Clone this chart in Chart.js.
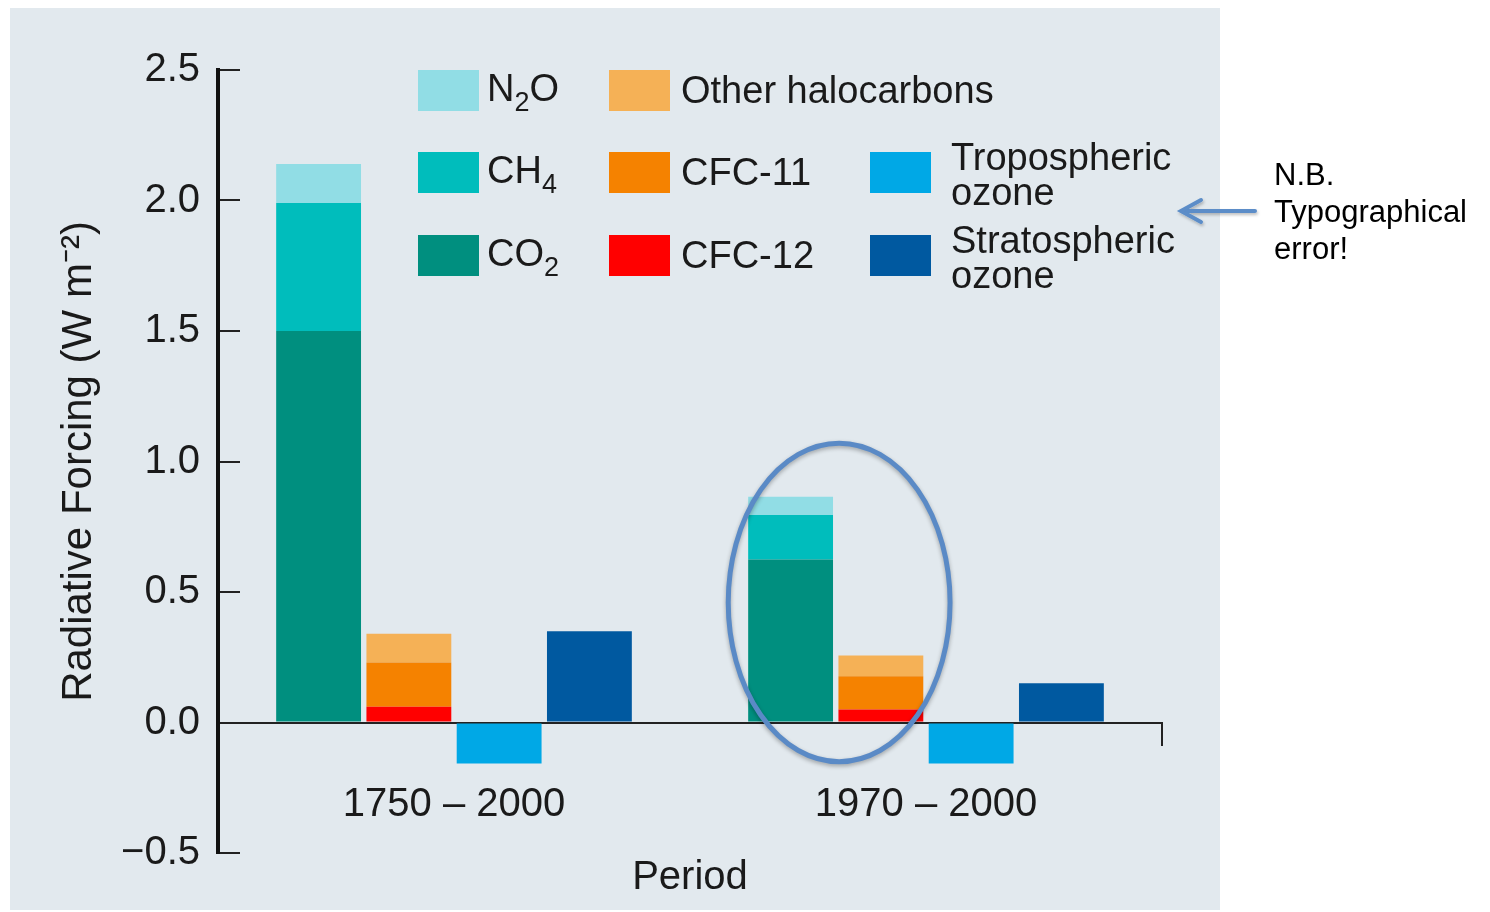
<!DOCTYPE html>
<html>
<head>
<meta charset="utf-8">
<script src="https://cdn.jsdelivr.net/npm/chart.js@4.4.1/dist/chart.umd.min.js"></script>
<style>
  html, body { margin: 0; padding: 0; background: #fff; }
  body { width: 1490px; height: 912px; position: relative; overflow: hidden;
         font-family: "Liberation Sans", Arial, sans-serif; color: #1a1a1a; }
  #panel { position: absolute; left: 10px; top: 8px; width: 1210px; height: 902px; background: #e2e9ee; }
  #wrap { position: absolute; left: 0; top: 0; width: 1490px; height: 912px; }
  .key { position: absolute; display: flex; align-items: center; height: 41px; font-size: 38px; line-height: 35px; white-space: nowrap; }
  .key i { display: block; width: 61px; height: 41px; flex: none; }
  .key .sub { font-size: 27px; position: relative; top: 10px; }
  #note { position: absolute; left: 1274px; top: 156px; font-size: 31px; line-height: 37px; color: #000; }
  #arrow { position: absolute; left: 0; top: 0; }
</style>
</head>
<body>
<div id="panel"></div>
<div id="wrap"><canvas id="chart" width="1490" height="912"></canvas></div>
<div id="legend"></div>
<svg id="arrow" width="1490" height="912">
  <defs>
    <filter id="sh" x="-20%" y="-50%" width="140%" height="200%">
      <feDropShadow dx="1" dy="2" stdDeviation="1.5" flood-color="#000" flood-opacity="0.25"/>
    </filter>
  </defs>
  <g stroke="#5b8dc8" stroke-width="4" stroke-linecap="round" fill="none" filter="url(#sh)">
    <line x1="1255" y1="211" x2="1182" y2="211"/>
    <polyline points="1201,200 1181,211 1201,222"/>
  </g>
</svg>
<div id="note">N.B.<br>Typographical<br>error!</div>
<script>
// periods on the x axis
const periods = ["1750 \u2013 2000", "1970 \u2013 2000"];

// radiative forcing, W m-2
const co2 = [1.50, 0.625];
const ch4 = [0.49, 0.17];
const n2o = [0.15, 0.07];
const cfc12 = [0.06, 0.05];
const cfc11 = [0.17, 0.127];
const otherHalocarbons = [0.11, 0.08];
const tropOzone = [-0.157, -0.157];
const stratOzone = [0.35, 0.15];

const yMin = -0.5;
const yMax = 2.5;
const yStep = 0.5;

const textColor = "#1a1a1a";
const font = "'Liberation Sans', Arial, sans-serif";

const datasets = [
    { label: "CO\u2082", key: "CO<span class='sub'>2</span>", data: co2, stack: "gas", backgroundColor: "#008f7f" },
    { label: "CH\u2084", key: "CH<span class='sub'>4</span>", data: ch4, stack: "gas", backgroundColor: "#00bdbc" },
    { label: "N\u2082O", key: "N<span class='sub'>2</span>O", data: n2o, stack: "gas", backgroundColor: "#91dde5" },
    { label: "CFC-12", key: "CFC-12", data: cfc12, stack: "halo", backgroundColor: "#ff0000" },
    { label: "CFC-11", key: "CFC-11", data: cfc11, stack: "halo", backgroundColor: "#f58200" },
    { label: "Other halocarbons", key: "Other halocarbons", data: otherHalocarbons, stack: "halo", backgroundColor: "#f5b156" },
    { label: "Tropospheric ozone", key: "Tropospheric<br>ozone", data: tropOzone, stack: "trop", backgroundColor: "#00a8e6" },
    { label: "Stratospheric ozone", key: "Stratospheric<br>ozone", data: stratOzone, stack: "strat", backgroundColor: "#0059a0" }
];

// legend layout: which column / row each series goes in
const legendCols = [418, 609, 870];
const legendGaps = [8, 11, 20];
const legendRows = [70, 152, 235];
const legendSlots = [[0, 2], [0, 1], [0, 0], [1, 2], [1, 1], [1, 0], [2, 1], [2, 2]];

const legend = document.getElementById("legend");
datasets.forEach((ds, i) => {
    const [col, row] = legendSlots[i];
    const item = document.createElement("div");
    item.className = "key";
    item.style.left = legendCols[col] + "px";
    item.style.top = legendRows[row] + "px";
    item.innerHTML = `<i style="background:${ds.backgroundColor};margin-right:${legendGaps[col]}px"></i>` +
        `<span style="position:relative;top:${col === 2 ? 2 : 0}px">${ds.key}</span>`;
    legend.appendChild(item);
});

// the ring drawn round the 1970-2000 gases, in axis units
const ringPlugin = {
    id: "ring",
    afterDatasetsDraw(chart) {
        const { ctx, scales: { x, y } } = chart;
        const cx = x.getPixelForValue(0.816);
        const rx = x.getPixelForValue(1) - x.getPixelForValue(0.765);
        const cy = y.getPixelForValue(0.46);
        const ry = y.getPixelForValue(-0.15) - cy;
        ctx.save();
        ctx.shadowColor = "rgba(0,0,0,0.3)";
        ctx.shadowBlur = 4;
        ctx.shadowOffsetY = 2;
        ctx.strokeStyle = "#5a8ac6";
        ctx.lineWidth = 5;
        ctx.beginPath();
        ctx.ellipse(cx, cy, rx, ry, 0, 0, Math.PI * 2);
        ctx.stroke();
        ctx.restore();
    }
};

new Chart(document.getElementById("chart"), {
    type: "bar",
    data: {
        labels: periods,
        datasets: datasets.map(d => ({
            label: d.label,
            data: d.data,
            stack: d.stack,
            backgroundColor: d.backgroundColor,
            borderWidth: 0,
            categoryPercentage: 0.765,
            barPercentage: 0.94
        }))
    },
    options: {
        responsive: false,
        animation: false,
        maintainAspectRatio: false,
        devicePixelRatio: 1,
        layout: { padding: { left: 40, top: 70, right: 328, bottom: 59 } },
        plugins: {
            legend: { display: false },
            tooltip: { enabled: false }
        },
        scales: {
            x: {
                stacked: true,
                position: { y: 0 },
                border: { display: true, color: "#222", width: 2 },
                grid: {
                    drawOnChartArea: false,
                    drawTicks: true,
                    tickLength: 22,
                    lineWidth: 2,
                    color: c => (c.index === undefined ? "#222" : "rgba(0,0,0,0)")
                },
                ticks: {
                    color: textColor,
                    padding: 36,
                    font: { family: font, size: 40 }
                },
                title: {
                    display: true,
                    text: "Period",
                    color: textColor,
                    padding: { top: -11, bottom: 0 },
                    font: { family: font, size: 40 }
                }
            },
            y: {
                stacked: true,
                min: yMin,
                max: yMax,
                afterFit: s => { s.width = 178; },
                border: { display: true, color: "#111", width: 4 },
                grid: {
                    drawOnChartArea: false,
                    drawTicks: true,
                    tickLength: -22,
                    lineWidth: 2,
                    color: "#222"
                },
                ticks: {
                    stepSize: yStep,
                    color: textColor,
                    padding: 40,
                    font: { family: font, size: 40, lineHeight: 0.9 },
                    callback: v => (v < 0 ? "\u2212" + Math.abs(v).toFixed(1) : v.toFixed(1))
                },
                title: {
                    display: true,
                    text: "Radiative Forcing (W m\u207B\u00B2)",
                    color: textColor,
                    padding: { top: 14, bottom: 0 },
                    font: { family: font, size: 42 }
                }
            }
        }
    },
    plugins: [ringPlugin]
});
</script>
</body>
</html>
